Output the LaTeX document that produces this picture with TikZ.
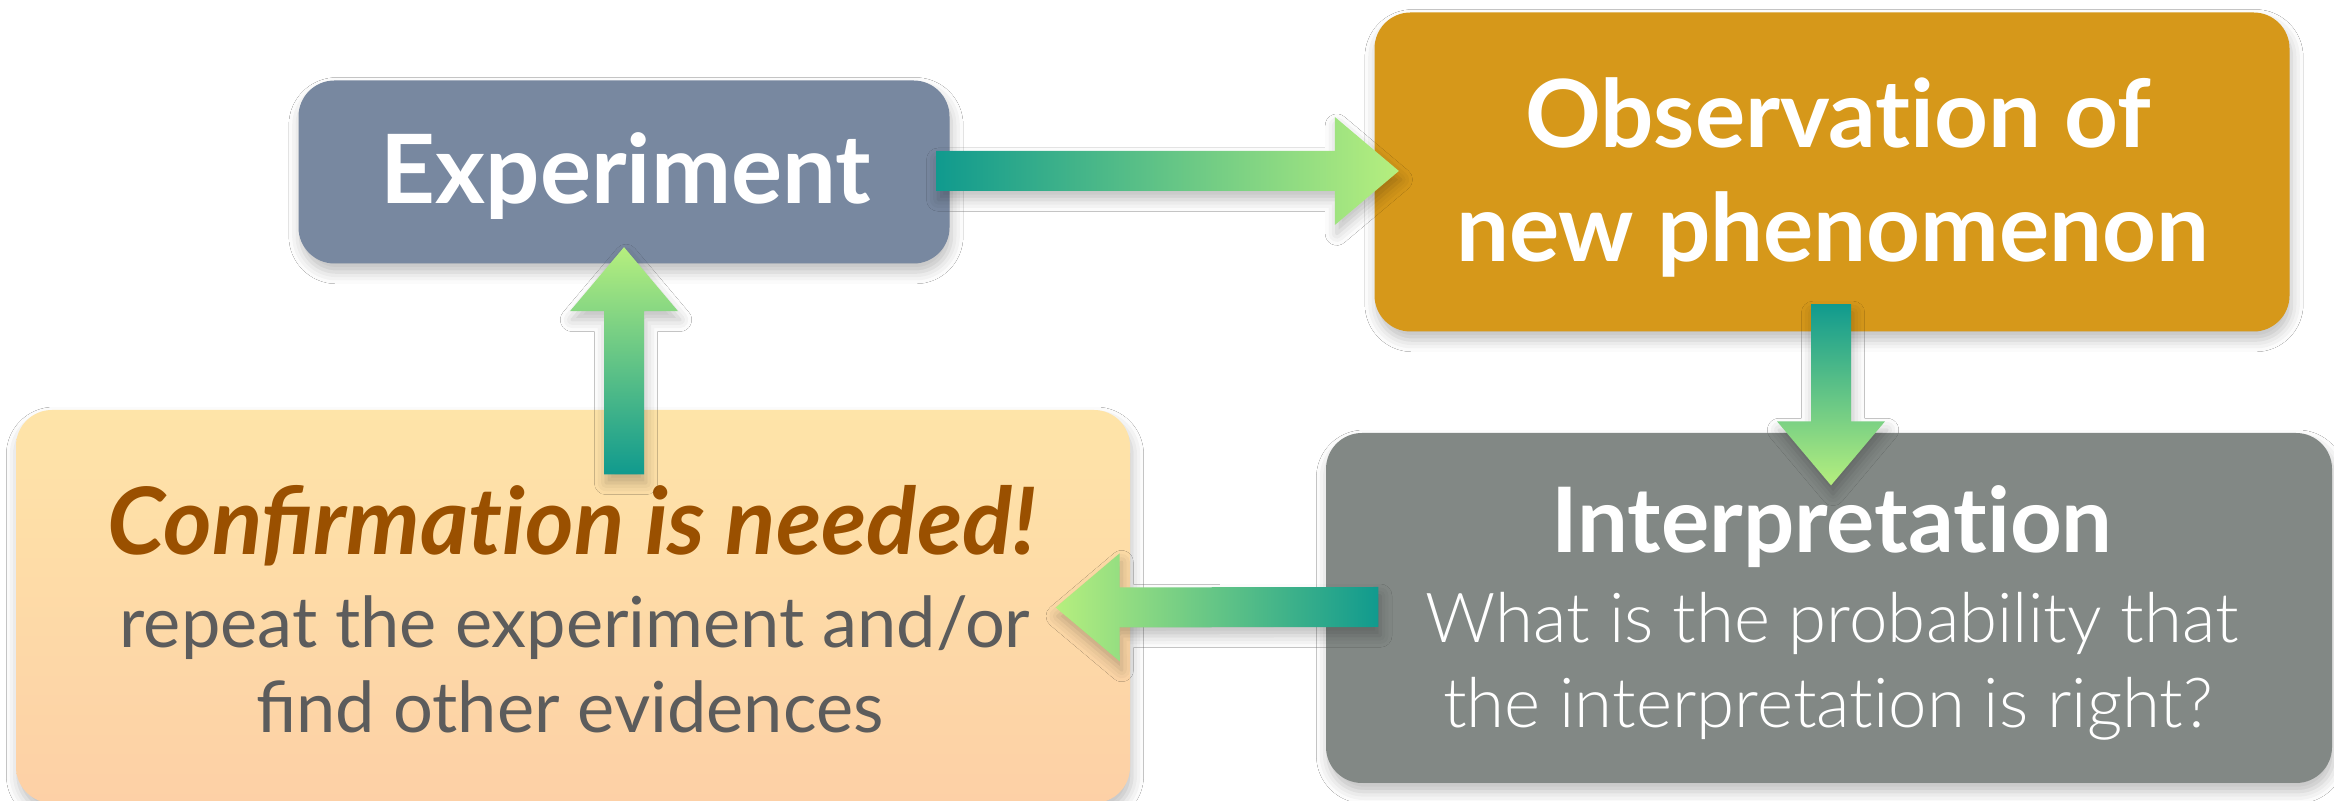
\documentclass[tikz,border=0pt]{standalone}
\usepackage{fontspec}
\setmainfont{Lato}
\newfontfamily\latolight{Lato Light}
\usetikzlibrary{calc,shadows.blur}
\definecolor{expc}{HTML}{7888A0}
\definecolor{obsc}{HTML}{D6981A}
\definecolor{intc}{HTML}{828885}
\definecolor{conftop}{HTML}{FEE4A8}
\definecolor{confbot}{HTML}{FDD0A6}
\definecolor{conftxt}{HTML}{9A5000}
\definecolor{subtxt}{HTML}{5C5C5C}
\definecolor{ateal}{HTML}{109A8E}
\definecolor{agreen}{HTML}{B6EF7E}
\newcommand\shw{6pt}
\newcommand\hhw{16.2pt}
\newcommand\hl{19.2pt}
\newcommand\nl{\kern0pt }
\newcommand\blockarrow[3]{%
  \coordinate (h) at ($(#3)!\hl!(#2)$);
  \path[arrowsty,#1] ($(#2)!\shw!90:(#3)$) -- ($(h)!\shw!90:(#3)$) -- ($(h)!\hhw!90:(#3)$)
    -- (#3) -- ($(h)!\hhw!-90:(#3)$) -- ($(h)!\shw!-90:(#3)$) -- ($(#2)!\shw!-90:(#3)$) -- cycle;
}
\begin{document}
\begin{tikzpicture}[x=0.3pt,y=-0.3pt,
  shad/.style={blur shadow={shadow xshift=0.6pt, shadow yshift=-2.6pt, shadow blur radius=3.5pt, shadow opacity=25}},
  box/.style={rectangle, rounded corners=10.8pt, inner sep=0pt, shad},
  arrowsty/.style={shad},
  bigtxt/.style={anchor=base, text=white, font=\bfseries\fontsize{28.2}{30}\selectfont},
  lighttxt/.style={anchor=base, text=white, font=\latolight\fontsize{20.7}{24}\selectfont},
  conftitle/.style={anchor=base, text=conftxt, font=\bfseries\itshape\fontsize{27.9}{30}\selectfont},
  subtext/.style={anchor=base, text=subtxt, font=\fontsize{21.1}{24}\selectfont}
]
\useasboundingbox (0,0) rectangle (2334,801);
\fill[white] (0,0) rectangle (2334,801);

% boxes
\node[box, fill=expc, minimum width=195.3pt, minimum height=54.9pt] (exp) at (624,172) {};
\node[box, fill=obsc, minimum width=274.5pt, minimum height=95.7pt] (obs) at (1832,172) {};
\node[box, fill=intc, minimum width=301.8pt, minimum height=105pt] (int) at (1829,608) {};
\node[box, top color=conftop, bottom color=confbot, minimum width=334.2pt, minimum height=117.9pt] (conf) at (573,606.5) {};

% texts
\node[bigtxt, font=\bfseries\fontsize{28.7}{30}\selectfont] (texp) at ($(exp.center)+(2,32)$) {Experiment};
\node[bigtxt] (tobs1) at ($(obs.center)+(6,-24)$) {Observat\nl ion of};
\node[bigtxt] (tobs2) at ($(obs.center)+(1,90)$) {new phenomenon};
\node[bigtxt, font=\bfseries\fontsize{27.1}{30}\selectfont] (tint1) at ($(int.center)+(3,-55)$) {Interpretat\nl ion};
\node[lighttxt] (tint2) at ($(int.center)+(3,35)$) {What is the probability that};
\node[lighttxt] (tint3) at ($(int.center)+(-1,120)$) {the interpretat\nl ion is right?};
\node[conftitle] (tconf1) at ($(conf.center)+(-1,-51.5)$) {Confirmat\nl ion is needed!};
\node[subtext] (tconf2) at ($(conf.center)+(2,41.5)$) {repeat the experiment and/or};
\node[subtext] (tconf3) at ($(conf.center)+(-3,126.5)$) {find other evidences};

% arrows
\coordinate (a1s) at ($(exp.east)+(-14,-1)$);
\coordinate (a1t) at ($(obs.west)+(25,-1)$);
\coordinate (a2s) at ($(obs.south)+(-1,-28)$);
\coordinate (a2t) at ($(int.north)+(2,53)$);
\coordinate (a3s) at ($(int.west)+(53,-1)$);
\coordinate (a3t) at ($(conf.east)+(-75,1)$);
\coordinate (a4s) at ($(conf.north)+(51,65)$);
\coordinate (a4t) at ($(exp.south)+(0,-17)$);
\blockarrow{left color=ateal, right color=agreen}{a1s}{a1t}
\blockarrow{top color=ateal, bottom color=agreen}{a2s}{a2t}
\blockarrow{right color=ateal, left color=agreen}{a3s}{a3t}
\blockarrow{bottom color=ateal, top color=agreen}{a4s}{a4t}
\end{tikzpicture}
\end{document}
